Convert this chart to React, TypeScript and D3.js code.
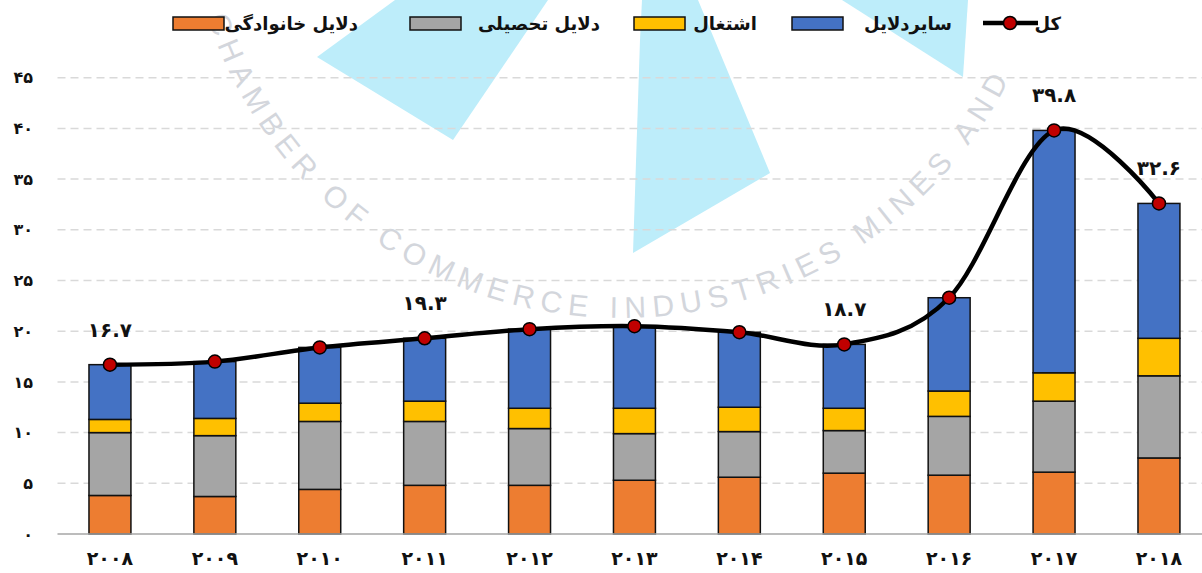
import { useEffect, useRef } from 'react'
import * as d3 from 'd3'

// years on the x axis
const YEARS = ['2008', '2009', '2010', '2011', '2012', '2013', '2014', '2015', '2016', '2017', '2018']

// stacked series, bottom to top
const FAMILY = [3.8, 3.7, 4.4, 4.8, 4.8, 5.3, 5.6, 6.0, 5.8, 6.1, 7.5]
const EDUCATION = [6.2, 6.0, 6.7, 6.3, 5.6, 4.6, 4.5, 4.2, 5.8, 7.0, 8.1]
const EMPLOYMENT = [1.3, 1.7, 1.8, 2.0, 2.0, 2.5, 2.4, 2.2, 2.5, 2.8, 3.7]
const OTHER = [5.4, 5.6, 5.5, 6.2, 7.8, 8.1, 7.4, 6.3, 9.2, 23.9, 13.3]

// total line
const TOTAL = [16.7, 17.0, 18.4, 19.3, 20.2, 20.5, 19.9, 18.7, 23.3, 39.8, 32.6]
const LABELLED_YEARS = ['2008', '2011', '2015', '2017', '2018']

const Y_TICKS = [0, 5, 10, 15, 20, 25, 30, 35, 40, 45]

const SERIES_KEYS = ['family', 'education', 'employment', 'other']
const SERIES_NAMES = {
  family: 'دلایل خانوادگی',
  education: 'دلایل تحصیلی',
  employment: 'اشتغال',
  other: 'سایردلایل',
}
const TOTAL_NAME = 'کل'

const COLORS = {
  family: '#ED7D31',
  education: '#A5A5A5',
  employment: '#FFC000',
  other: '#4472C4',
}

const WATERMARK_TEXT = 'CHAMBER OF COMMERCE INDUSTRIES MINES AND AGRICULTURE'

const FONT = '"DejaVu Sans", sans-serif'

const toPersian = (s: string) => s.replace(/[0-9]/g, d => '۰۱۲۳۴۵۶۷۸۹'[+d])

export default function App() {
  const svgRef = useRef<SVGSVGElement>(null)

  useEffect(() => {
    if (!svgRef.current) return
    const W = 1202
    const H = 573
    const svg = d3.select(svgRef.current)
    svg.selectAll('*').remove()
    svg.attr('width', W).attr('height', H)

    svg.append('rect').attr('width', W).attr('height', H).attr('fill', '#fff')

    // watermark: logo triangles + letters laid along an arc
    const wm = svg.append('g')
    const tri = [
      [[317, 57], [395, 0], [548, 0], [453, 140]],
      [[642, 0], [698, 0], [770, 173], [633, 253], [640, 40]],
      [[842, 0], [968, 0], [963, 77]],
    ]
    tri.forEach(p => {
      wm.append('polygon')
        .attr('points', p.map(q => q.join(',')).join(' '))
        .attr('fill', '#BDEDFA')
    })
    const cx = 621
    const cy = -117
    const r = 435
    const a0 = (162 * Math.PI) / 180
    const a1 = (22 * Math.PI) / 180
    const arc = wm.append('path')
      .attr(
        'd',
        `M${cx + r * Math.cos(a0)},${cy + r * Math.sin(a0)} A${r},${r} 0 0 0 ${cx + r * Math.cos(a1)},${cy + r * Math.sin(a1)}`
      )
      .attr('fill', 'none')
      .attr('stroke', 'none')
    const arcNode = arc.node() as SVGPathElement
    const arcLen = arcNode.getTotalLength()
    const probe = wm.append('text')
      .attr('font-family', '"Liberation Sans", sans-serif')
      .attr('font-size', 30)
    const spacing = 7
    let s = 0
    for (const ch of WATERMARK_TEXT) {
      probe.text(ch === ' ' ? '\u00a0' : ch)
      const w = (probe.node() as SVGTextElement).getComputedTextLength()
      if (s + w > arcLen) break
      if (ch !== ' ') {
        const mid = arcNode.getPointAtLength(s + w / 2)
        const p1 = arcNode.getPointAtLength(Math.max(0, s + w / 2 - 1))
        const p2 = arcNode.getPointAtLength(Math.min(arcLen, s + w / 2 + 1))
        const ang = (Math.atan2(p2.y - p1.y, p2.x - p1.x) * 180) / Math.PI
        wm.append('text')
          .attr('transform', `translate(${mid.x},${mid.y}) rotate(${ang})`)
          .attr('text-anchor', 'middle')
          .attr('font-family', '"Liberation Sans", sans-serif')
          .attr('font-size', 30)
          .attr('fill', '#D3D6DC')
          .text(ch)
      }
      s += w + spacing
    }
    probe.remove()

    const margin = { left: 57.5, right: 1211.4, bottom: 534, top: 77.7 }

    const x = d3
      .scaleBand()
      .domain(YEARS)
      .range([margin.left, margin.right])
      .paddingInner(0.6)
      .paddingOuter(0.3)

    const y = d3.scaleLinear().domain([0, 45]).range([margin.bottom, margin.top])

    // grid
    svg.append('g')
      .selectAll('line')
      .data(Y_TICKS.filter(d => d > 0))
      .enter()
      .append('line')
      .attr('x1', margin.left)
      .attr('x2', W)
      .attr('y1', d => y(d))
      .attr('y2', d => y(d))
      .attr('stroke', '#D9D9D9')
      .attr('stroke-width', 1.5)
      .attr('stroke-dasharray', '8,5')

    // y labels
    svg.append('g')
      .selectAll('text')
      .data(Y_TICKS)
      .enter()
      .append('text')
      .attr('x', 33)
      .attr('y', d => y(d))
      .attr('dy', '0.35em')
      .attr('text-anchor', 'end')
      .attr('font-family', FONT)
      .attr('font-size', 16)
      .attr('font-weight', 'bold')
      .attr('fill', '#111')
      .text(d => toPersian(String(d)))

    // stacked bars
    const table = YEARS.map((year, i) => ({
      year,
      family: FAMILY[i],
      education: EDUCATION[i],
      employment: EMPLOYMENT[i],
      other: OTHER[i],
    }))
    const stacked = d3.stack<any>().keys(SERIES_KEYS)(table)

    svg.append('g')
      .selectAll('g')
      .data(stacked)
      .enter()
      .append('g')
      .attr('fill', d => COLORS[d.key])
      .selectAll('rect')
      .data(d => d)
      .enter()
      .append('rect')
      .attr('x', d => x(d.data.year))
      .attr('width', x.bandwidth())
      .attr('y', d => y(d[1]))
      .attr('height', d => y(d[0]) - y(d[1]))
      .attr('stroke', '#111')
      .attr('stroke-width', 1.5)

    // baseline
    svg.append('line')
      .attr('x1', margin.left)
      .attr('x2', W)
      .attr('y1', y(0))
      .attr('y2', y(0))
      .attr('stroke', '#A6A6A6')
      .attr('stroke-width', 1.5)

    // x labels
    svg.append('g')
      .selectAll('text')
      .data(YEARS)
      .enter()
      .append('text')
      .attr('x', d => x(d) + x.bandwidth() / 2)
      .attr('y', 565)
      .attr('text-anchor', 'middle')
      .attr('font-family', FONT)
      .attr('font-size', 19)
      .attr('font-weight', 'bold')
      .attr('fill', '#111')
      .text(d => toPersian(d))

    // total line
    const pts = YEARS.map((year, i) => ({ year, v: TOTAL[i] }))
    const line = d3
      .line<any>()
      .x(d => x(d.year) + x.bandwidth() / 2)
      .y(d => y(d.v))
      .curve(d3.curveCardinal.tension(0))

    svg.append('path')
      .datum(pts)
      .attr('d', line)
      .attr('fill', 'none')
      .attr('stroke', '#000')
      .attr('stroke-width', 4.5)

    svg.append('g')
      .selectAll('circle')
      .data(pts)
      .enter()
      .append('circle')
      .attr('cx', d => x(d.year) + x.bandwidth() / 2)
      .attr('cy', d => y(d.v))
      .attr('r', 6.5)
      .attr('fill', '#C00000')
      .attr('stroke', '#000')
      .attr('stroke-width', 1.5)

    svg.append('g')
      .selectAll('text')
      .data(pts.filter(d => LABELLED_YEARS.includes(d.year)))
      .enter()
      .append('text')
      .attr('x', d => x(d.year) + x.bandwidth() / 2)
      .attr('y', d => y(d.v) - 28)
      .attr('text-anchor', 'middle')
      .attr('font-family', FONT)
      .attr('font-size', 20)
      .attr('font-weight', 'bold')
      .attr('fill', '#111')
      .text(d => toPersian(d.v.toFixed(1)))

    // legend
    const legend = svg.append('g').attr('font-family', FONT).attr('font-size', 18).attr('font-weight', 'bold')
    const legendItems = [
      { key: 'family', box: 173, textEnd: 358 },
      { key: 'education', box: 410, textEnd: 600 },
      { key: 'employment', box: 634, textEnd: 757 },
      { key: 'other', box: 792, textEnd: 952 },
    ]
    legendItems.forEach(item => {
      legend.append('rect')
        .attr('x', item.box)
        .attr('y', 17)
        .attr('width', 51)
        .attr('height', 13)
        .attr('fill', COLORS[item.key])
        .attr('stroke', '#111')
        .attr('stroke-width', 1.5)
      legend.append('text')
        .attr('x', item.textEnd)
        .attr('y', 30)
        .attr('text-anchor', 'end')
        .attr('fill', '#111')
        .text(SERIES_NAMES[item.key])
    })
    legend.append('line')
      .attr('x1', 983)
      .attr('x2', 1038)
      .attr('y1', 23)
      .attr('y2', 23)
      .attr('stroke', '#000')
      .attr('stroke-width', 4.5)
    legend.append('circle')
      .attr('cx', 1010)
      .attr('cy', 23)
      .attr('r', 6.5)
      .attr('fill', '#C00000')
      .attr('stroke', '#000')
      .attr('stroke-width', 1.5)
    legend.append('text')
      .attr('x', 1061)
      .attr('y', 30)
      .attr('text-anchor', 'end')
      .attr('fill', '#111')
      .text(TOTAL_NAME)
  }, [])

  return (
    <div style={{ position: 'absolute', left: 0, top: 0 }}>
      <svg ref={svgRef} style={{ display: 'block' }}></svg>
    </div>
  )
}
